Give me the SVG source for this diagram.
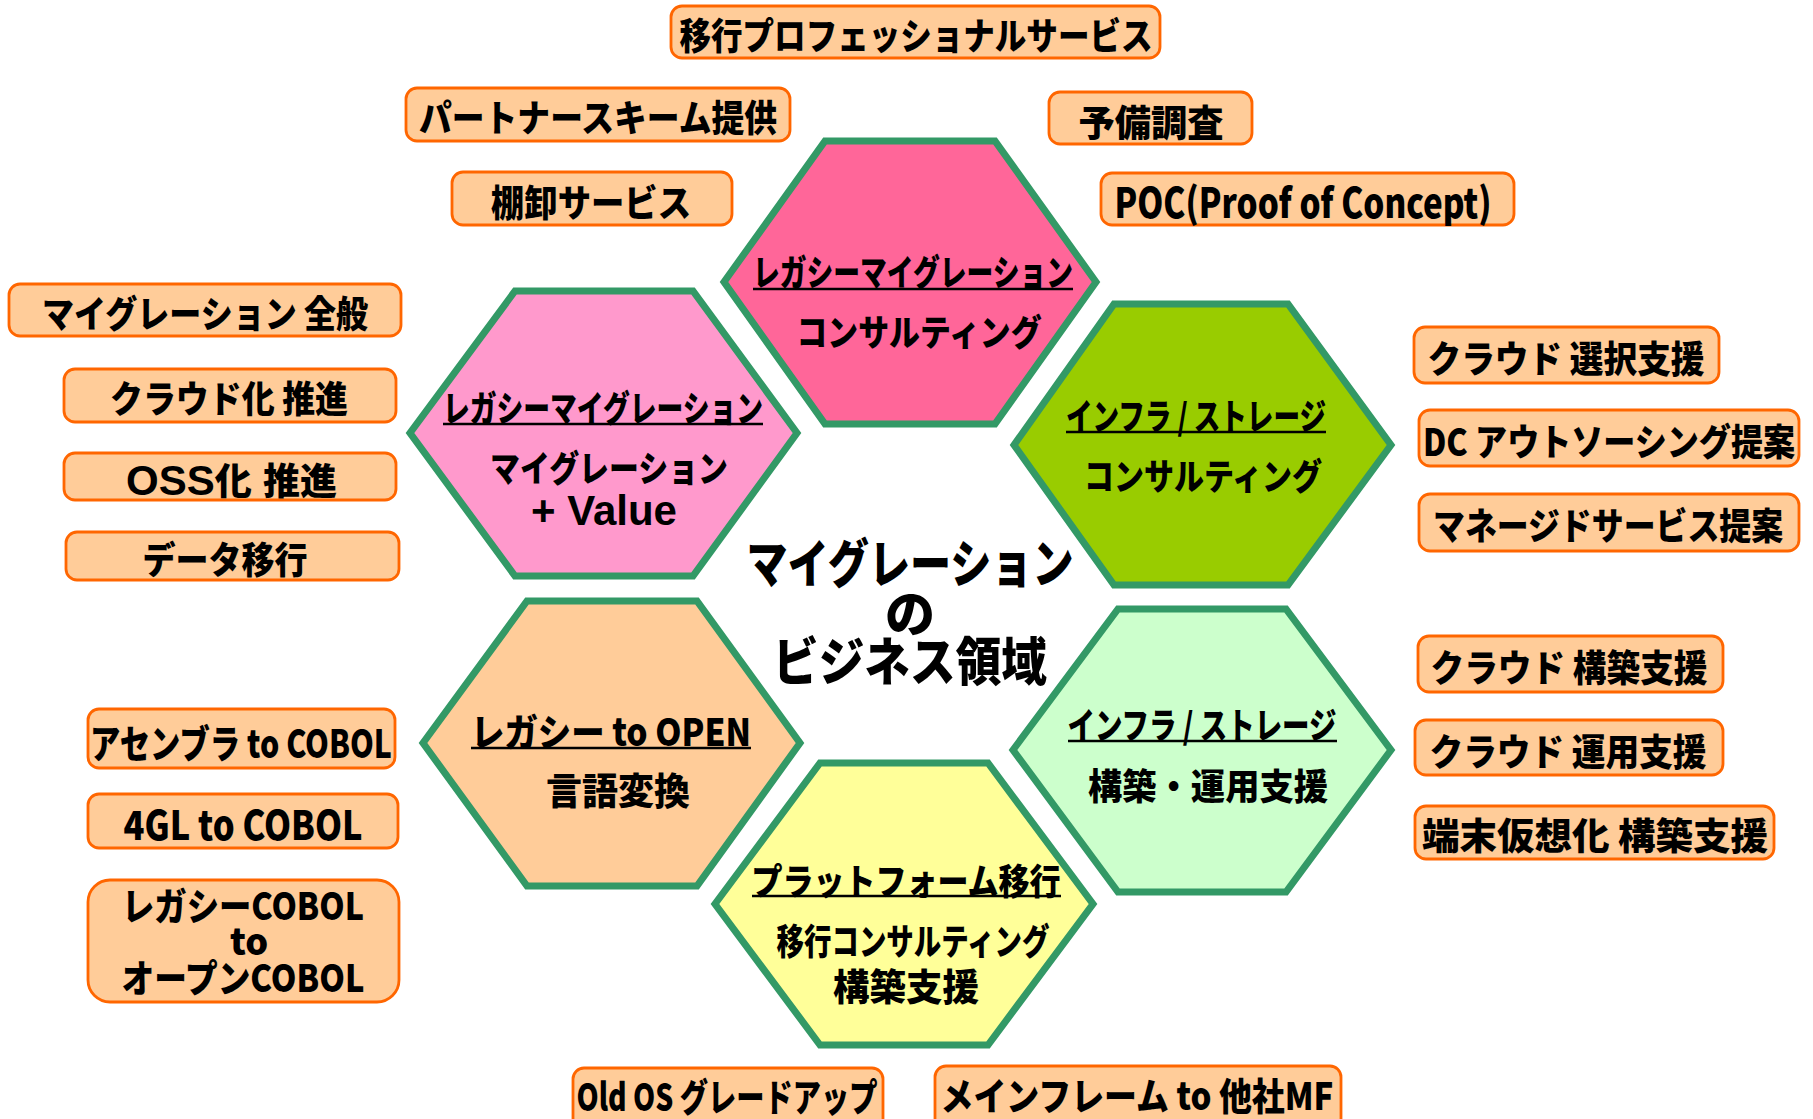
<svg xmlns="http://www.w3.org/2000/svg" width="1813" height="1119" viewBox="0 0 1813 1119">
<style>
.bx{fill:#FFCC99;stroke:#FF6600;stroke-width:2.8}
.hx{stroke:#339966;stroke-width:7;stroke-linejoin:miter}
.t{font-family:"Noto Sans CJK JP","Liberation Sans",sans-serif;font-weight:900;fill:#000;text-anchor:middle;dominant-baseline:central}
.ul{stroke:#000;stroke-width:2.6}
.lat{font-family:"Liberation Sans",Arial,sans-serif;font-weight:bold;fill:#000}
</style>
<rect width="1813" height="1119" fill="#fff"/>
<g id="connectors"/>

<g id="hex-legacy-consulting">
<polygon class="hx" fill="#FF6699" points="825,141 995,141 1096,282 995,424 825,424 724,282"/>
<text class="t" x="913" y="270" font-size="36" textLength="320" lengthAdjust="spacingAndGlyphs">レガシーマイグレーション</text>
<line class="ul" x1="753" y1="289" x2="1073" y2="289"/>
<text class="t" x="919" y="330" font-size="36" textLength="245" lengthAdjust="spacingAndGlyphs">コンサルティング</text>
</g>
<g id="hex-legacy-value">
<polygon class="hx" fill="#FF99CC" points="515,291 693,291 797,433 693,576 515,576 410,433"/>
<text class="t" x="603" y="406" font-size="36" textLength="320" lengthAdjust="spacingAndGlyphs">レガシーマイグレーション</text>
<line class="ul" x1="443" y1="424" x2="763" y2="424"/>
<text class="t" x="609" y="466" font-size="36" textLength="238" lengthAdjust="spacingAndGlyphs">マイグレーション</text>
<text class="lat" x="604" y="525" font-size="42" text-anchor="middle">+ Value</text>
</g>
<g id="hex-infra-consulting">
<polygon class="hx" fill="#99CC00" points="1114,304 1288,304 1391,445 1288,585 1114,585 1014,445"/>
<text class="t" x="1196" y="414" font-size="36" textLength="260" lengthAdjust="spacingAndGlyphs">インフラ / ストレージ</text>
<line class="ul" x1="1066" y1="432" x2="1326" y2="432"/>
<text class="t" x="1203" y="474" font-size="36" textLength="238" lengthAdjust="spacingAndGlyphs">コンサルティング</text>
</g>
<g id="hex-language-conversion">
<polygon class="hx" fill="#FFCC99" points="527,601 697,601 800,743 697,886 527,886 423,743"/>
<text class="t" x="611" y="729" font-size="38" textLength="280" lengthAdjust="spacingAndGlyphs">レガシー to OPEN</text>
<line class="ul" x1="471" y1="748" x2="751" y2="748"/>
<text class="t" x="618" y="789" font-size="37" textLength="144" lengthAdjust="spacingAndGlyphs">言語変換</text>
</g>
<g id="hex-infra-build">
<polygon class="hx" fill="#CCFFCC" points="1118,609 1286,609 1391,750 1286,892 1118,892 1013,750"/>
<text class="t" x="1202" y="723" font-size="36" textLength="269" lengthAdjust="spacingAndGlyphs">インフラ / ストレージ</text>
<line class="ul" x1="1068" y1="741" x2="1337" y2="741"/>
<text class="t" x="1208" y="784" font-size="36" textLength="240" lengthAdjust="spacingAndGlyphs">構築・運用支援</text>
</g>
<g id="hex-platform">
<polygon class="hx" fill="#FFFF99" points="820,763 988,763 1093,904 988,1045 820,1045 715,904"/>
<text class="t" x="906" y="879" font-size="36" textLength="309" lengthAdjust="spacingAndGlyphs">プラットフォーム移行</text>
<line class="ul" x1="752" y1="896" x2="1061" y2="896"/>
<text class="t" x="913" y="939" font-size="36" textLength="273" lengthAdjust="spacingAndGlyphs">移行コンサルティング</text>
<text class="t" x="906" y="985" font-size="37" textLength="146" lengthAdjust="spacingAndGlyphs">構築支援</text>
</g>

<g id="center-title">
<text class="t" x="910" y="560" font-size="52" textLength="327" lengthAdjust="spacingAndGlyphs">マイグレーション</text>
<text class="t" x="910" y="610" font-size="50">の</text>
<text class="t" x="910" y="658" font-size="52" textLength="274" lengthAdjust="spacingAndGlyphs">ビジネス領域</text>
</g>

<g id="box-pro-service"><rect class="bx" x="671" y="6" width="489" height="52" rx="11"/><text class="t" x="916" y="34" font-size="37" textLength="473" lengthAdjust="spacingAndGlyphs">移行プロフェッショナルサービス</text></g>
<g id="box-partner"><rect class="bx" x="406" y="88" width="384" height="53" rx="11"/><text class="t" x="598" y="116" font-size="37" textLength="358" lengthAdjust="spacingAndGlyphs">パートナースキーム提供</text></g>
<g id="box-prelim"><rect class="bx" x="1049" y="92" width="203" height="52" rx="11"/><text class="t" x="1151" y="121" font-size="37" textLength="145" lengthAdjust="spacingAndGlyphs">予備調査</text></g>
<g id="box-inventory"><rect class="bx" x="452" y="172" width="280" height="53" rx="11"/><text class="t" x="591" y="201" font-size="37" textLength="200" lengthAdjust="spacingAndGlyphs">棚卸サービス</text></g>
<g id="box-poc"><rect class="bx" x="1101" y="173" width="413" height="52" rx="11"/><text class="t" x="1303" y="200" font-size="41" font-weight="700" textLength="377" lengthAdjust="spacingAndGlyphs">POC(Proof of Concept)</text></g>
<g id="box-migration-general"><rect class="bx" x="9" y="284" width="392" height="52" rx="11"/><text class="t" x="205" y="312" font-size="37" textLength="326" lengthAdjust="spacingAndGlyphs">マイグレーション 全般</text></g>
<g id="box-cloud-promo"><rect class="bx" x="64" y="369" width="332" height="53" rx="11"/><text class="t" x="229" y="397" font-size="37" textLength="238" lengthAdjust="spacingAndGlyphs">クラウド化 推進</text></g>
<g id="box-oss"><rect class="bx" x="64" y="453" width="332" height="47" rx="11"/><text x="126" y="495" font-size="42" class="lat">OSS<tspan font-family="Noto Sans CJK JP, sans-serif" font-weight="900" font-size="37">化</tspan><tspan x="263" font-family="Noto Sans CJK JP, sans-serif" font-weight="900" font-size="37">推進</tspan></text></g>
<g id="box-data"><rect class="bx" x="66" y="532" width="333" height="48" rx="11"/><text class="t" x="225" y="558" font-size="37" textLength="165" lengthAdjust="spacingAndGlyphs">データ移行</text></g>
<g id="box-cloud-select"><rect class="bx" x="1414" y="327" width="305" height="56" rx="11"/><text class="t" x="1566" y="357" font-size="37" textLength="277" lengthAdjust="spacingAndGlyphs">クラウド 選択支援</text></g>
<g id="box-dc"><rect class="bx" x="1419" y="410" width="380" height="56" rx="11"/><text class="t" transform="translate(1609,440) scale(0.8,1)" x="0" y="0" font-size="37" textLength="465" lengthAdjust="spacingAndGlyphs">DC アウトソーシング提案</text></g>
<g id="box-managed"><rect class="bx" x="1419" y="494" width="380" height="57" rx="11"/><text class="t" transform="translate(1608,524) scale(0.86,1)" x="0" y="0" font-size="37" textLength="407" lengthAdjust="spacingAndGlyphs">マネージドサービス提案</text></g>
<g id="box-cloud-build"><rect class="bx" x="1418" y="636" width="305" height="56" rx="11"/><text class="t" x="1569" y="666" font-size="37" textLength="277" lengthAdjust="spacingAndGlyphs">クラウド 構築支援</text></g>
<g id="box-cloud-ops"><rect class="bx" x="1415" y="720" width="308" height="55" rx="11"/><text class="t" x="1568" y="750" font-size="37" textLength="277" lengthAdjust="spacingAndGlyphs">クラウド 運用支援</text></g>
<g id="box-vdi"><rect class="bx" x="1415" y="806" width="359" height="53" rx="11"/><text class="t" x="1595" y="834" font-size="37" textLength="346" lengthAdjust="spacingAndGlyphs">端末仮想化 構築支援</text></g>
<g id="box-asm"><rect class="bx" x="88" y="709" width="307" height="59" rx="11"/><text class="t" x="241" y="741" font-size="39" textLength="302" lengthAdjust="spacingAndGlyphs">アセンブラ to COBOL</text></g>
<g id="box-4gl"><rect class="bx" x="88" y="794" width="310" height="54" rx="11"/><text class="t" x="243" y="823" font-size="40" textLength="239" lengthAdjust="spacingAndGlyphs">4GL to COBOL</text></g>
<g id="box-cobol"><rect class="bx" x="88" y="880" width="311" height="122" rx="22"/>
<text class="t" x="243" y="903" font-size="38" textLength="242" lengthAdjust="spacingAndGlyphs">レガシーCOBOL</text>
<text class="t" x="249" y="939" font-size="36">to</text>
<text class="t" x="243" y="975" font-size="38" textLength="243" lengthAdjust="spacingAndGlyphs">オープンCOBOL</text></g>
<g id="box-oldos"><rect class="bx" x="573" y="1068" width="310" height="70" rx="11"/><text class="t" x="727" y="1094" font-size="38" textLength="301" lengthAdjust="spacingAndGlyphs">Old OS グレードアップ</text></g>
<g id="box-mainframe"><rect class="bx" x="935" y="1066" width="406" height="70" rx="11"/><text class="t" x="1137" y="1093" font-size="38" textLength="393" lengthAdjust="spacingAndGlyphs">メインフレーム to 他社MF</text></g>
</svg>
